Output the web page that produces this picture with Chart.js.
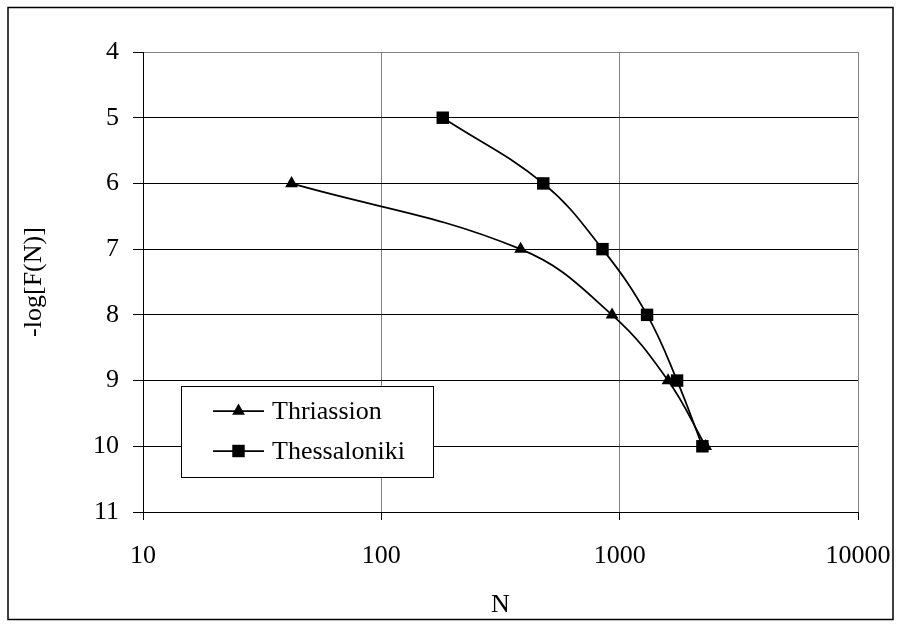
<!DOCTYPE html>
<html><head><meta charset="utf-8">
<script src="https://cdn.jsdelivr.net/npm/chart.js@4.4.1/dist/chart.umd.min.js"></script>
<style>html,body{margin:0;padding:0;background:#fff}canvas{display:block}</style>
</head><body>
<canvas id="c" width="900" height="624"></canvas>
<script>
const seriesNames = ['Thriassion', 'Thessaloniki'];
const thriassionN = [42, 384, 929, 1596, 2296];
const thriassionLogF = [6, 7, 8, 9, 10];
const thessalonikiN = [181, 478, 847, 1303, 1741, 2224];
const thessalonikiLogF = [5, 6, 7, 8, 9, 10];
const xTicks = [10, 100, 1000, 10000];
const yTicks = [4, 5, 6, 7, 8, 9, 10, 11];
const xTitle = 'N';
const yTitle = '-log[F(N)]';

const FONT = 'Liberation Serif';
const FS = 26;
Chart.defaults.font.family = FONT;
Chart.defaults.color = '#000';

function pts(xs, ys) { return xs.map((x, i) => ({x: x, y: ys[i]})); }

const frame = {
  id: 'frame',
  beforeDraw(chart) {
    const c = chart.ctx;
    c.save();
    c.fillStyle = '#fff';
    c.fillRect(0, 0, chart.width, chart.height);
    c.restore();
  },
  afterDraw(chart) {
    const c = chart.ctx;
    c.save();
    c.strokeStyle = '#000';
    c.lineWidth = 1.5;
    c.strokeRect(8, 7.5, 885, 612);
    // legend
    const bx = 181, by = 386, bw = 252, bh = 91;
    c.fillStyle = '#fff';
    c.fillRect(bx, by, bw, bh);
    c.lineWidth = 1;
    c.strokeStyle = '#000';
    c.strokeRect(bx + 0.5, by + 0.5, bw, bh);
    const rows = [411, 451];
    chart.data.datasets.forEach((ds, i) => {
      const y = rows[i];
      c.strokeStyle = '#000';
      c.lineWidth = 1.75;
      c.beginPath(); c.moveTo(213, y); c.lineTo(264, y); c.stroke();
      c.fillStyle = '#000';
      const mx = 238.5;
      if (ds.pointStyle === 'triangle') {
        const r = ds.pointRadius;
        c.beginPath();
        c.moveTo(mx, y - r);
        c.lineTo(mx + r * Math.sin(Math.PI / 3), y + r / 2);
        c.lineTo(mx - r * Math.sin(Math.PI / 3), y + r / 2);
        c.closePath(); c.fill();
      } else {
        const h = ds.pointRadius * Math.SQRT1_2;
        c.fillRect(mx - h, y - h, 2 * h, 2 * h);
      }
      c.font = FS + 'px "' + FONT + '"';
      c.textBaseline = 'middle';
      c.textAlign = 'left';
      c.fillText(ds.label, 272, y + 1);
    });
    c.restore();
  }
};

new Chart(document.getElementById('c'), {
  type: 'line',
  data: {
    datasets: [
      {
        label: seriesNames[0],
        data: pts(thriassionN, thriassionLogF),
        borderColor: '#000', backgroundColor: '#000', borderWidth: 1.75,
        pointStyle: 'triangle', pointRadius: 7.4, pointBorderWidth: 0,
        tension: 0.4, fill: false
      },
      {
        label: seriesNames[1],
        data: pts(thessalonikiN, thessalonikiLogF),
        borderColor: '#000', backgroundColor: '#000', borderWidth: 1.75,
        pointStyle: 'rect', pointRadius: 8.8, pointBorderWidth: 0,
        tension: 0.4, fill: false
      }
    ]
  },
  options: {
    responsive: false,
    animation: false,
    devicePixelRatio: 1,
    layout: {padding: {left: 0, right: 42, top: 52, bottom: 0}},
    plugins: {legend: {display: false}, tooltip: {enabled: false}},
    scales: {
      x: {
        type: 'logarithmic', min: 10, max: 10000,
        afterBuildTicks(s) { s.ticks = xTicks.map(v => ({value: v})); },
        afterFit(s) { s.height = 112; s.paddingLeft = 0; s.paddingRight = 0; },
        ticks: {
          callback: v => String(v), autoSkip: false, maxRotation: 0,
          font: {size: FS, family: FONT}, color: '#000', padding: 21
        },
        grid: {color: '#808080', lineWidth: 1, tickLength: 8, tickColor: '#000', drawTicks: true},
        border: {color: '#000', width: 1},
        title: {display: true, text: xTitle, font: {size: FS, family: FONT}, color: '#000', padding: {top: 0, bottom: 3}}
      },
      y: {
        type: 'linear', reverse: true, min: 4, max: 11,
        afterBuildTicks(s) { s.ticks = yTicks.map(v => ({value: v})); },
        afterFit(s) { s.width = 143; s.paddingTop = 0; s.paddingBottom = 0; },
        ticks: {font: {size: FS, family: FONT}, color: '#000', padding: 14},
        grid: {
          color: ctx => (ctx.tick && ctx.tick.value === 4) ? '#808080' : '#000',
          lineWidth: 1, tickLength: 10, tickColor: '#000'
        },
        border: {color: '#000', width: 1},
        title: {display: true, text: yTitle, font: {size: FS, family: FONT}, color: '#000', padding: {top: 19, bottom: 0}}
      }
    }
  },
  plugins: [frame]
});
</script>
</body></html>
